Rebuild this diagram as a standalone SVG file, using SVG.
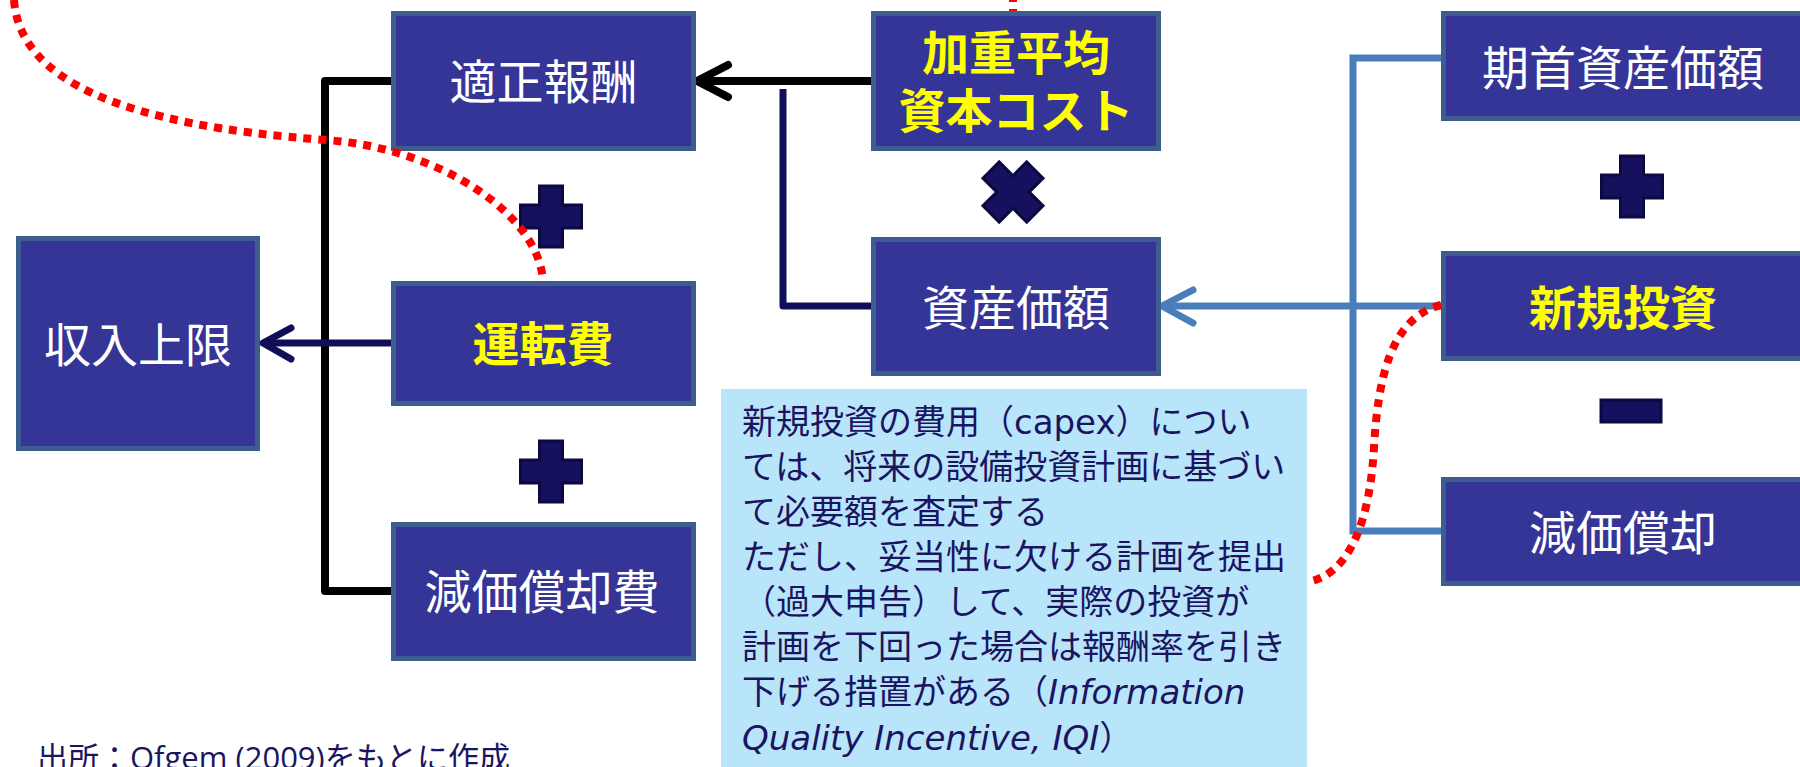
<svg xmlns="http://www.w3.org/2000/svg" width="1800" height="767" viewBox="0 0 1800 767">
<style>
.box{fill:#353598;stroke:#3C5D8E;stroke-width:5}
.wt{fill:#FFFFFF;font-family:"Noto Sans CJK JP",sans-serif;font-size:47px;text-anchor:middle}
.yt{fill:#FFFF00;font-family:"Noto Sans CJK JP",sans-serif;font-size:47px;font-weight:bold;text-anchor:middle}
.op{fill:#15115E;stroke:#0B0940;stroke-width:3}
.blk{fill:none;stroke:#000000;stroke-width:8;stroke-linejoin:round}
.nav{fill:none;stroke:#110E59;stroke-width:7;stroke-linejoin:round}
.stb{fill:none;stroke:#4A7EBB;stroke-width:7;stroke-linejoin:miter}
.head{stroke-linecap:round;stroke-linejoin:round}
.red{fill:none;stroke:#FF0000;stroke-width:8;stroke-dasharray:8 7}
.note{fill:#1B1561;font-family:"Noto Sans CJK JP",sans-serif;font-size:34px}
.lat{font-family:"DejaVu Sans",sans-serif}
.it{font-family:"DejaVu Sans",sans-serif;font-style:italic}
</style>

<g id="connectors">
  <path class="blk" d="M391 81 H325 V591 H391"/>
  <path class="nav" d="M391 343 H264"/>
  <path class="nav head" d="M291 328 L263 343 L291 359"/>
  <path class="blk" d="M871 81 H697"/>
  <path class="blk head" d="M728 65 L697 81 L728 97"/>
  <path class="nav" d="M871 306 H783 V89"/>
  <path class="stb" d="M1441 58 H1353 V531 H1441"/>
  <path class="stb" d="M1441 306 H1163"/>
  <path class="stb head" d="M1193 290 L1162 306 L1193 323"/>
</g>

<g id="node-tekisei">
  <rect class="box" x="393.5" y="13.5" width="300" height="135"/>
  <text class="wt" x="543.5" y="99">適正報酬</text>
</g>
<g id="node-untenhi">
  <rect class="box" x="393.5" y="283.5" width="300" height="120"/>
  <text class="yt" x="543" y="361">運転費</text>
</g>
<g id="node-genkashokyakuhi">
  <rect class="box" x="393.5" y="524.5" width="300" height="134"/>
  <text class="wt" x="542" y="609">減価償却費</text>
</g>
<g id="node-shunyu">
  <rect class="box" x="18.5" y="238.5" width="239" height="210"/>
  <text class="wt" x="138" y="362">収入上限</text>
</g>
<g id="node-wacc">
  <rect class="box" x="873.5" y="13.5" width="285" height="135"/>
  <text class="yt"><tspan x="1016" y="70">加重平均</tspan><tspan x="1016" y="128">資本コスト</tspan></text>
</g>
<g id="node-shisan">
  <rect class="box" x="873.5" y="239.5" width="285" height="134"/>
  <text class="wt" x="1016" y="325">資産価額</text>
</g>
<g id="node-kishu">
  <rect class="box" x="1443.5" y="13.5" width="359" height="105"/>
  <text class="wt" x="1623" y="85">期首資産価額</text>
</g>
<g id="node-shinki">
  <rect class="box" x="1443.5" y="253.5" width="359" height="105"/>
  <text class="yt" x="1623" y="325">新規投資</text>
</g>
<g id="node-genka">
  <rect class="box" x="1443.5" y="479.5" width="359" height="104"/>
  <text class="wt" x="1623" y="550">減価償却</text>
</g>

<g id="operators">
  <path class="op" d="M539.5 186 h23 v19 h19 v23 h-19 v19 h-23 v-19 h-19 v-23 h19 z"/>
  <path class="op" d="M539.5 441 h23 v19 h19 v23 h-19 v19 h-23 v-19 h-19 v-23 h19 z"/>
  <path class="op" d="M1620.5 156 h23 v19 h19 v23 h-19 v19 h-23 v-19 h-19 v-23 h19 z"/>
  <rect class="op" x="1601" y="400" width="60" height="22"/>
  <path class="op" transform="translate(1013 192) rotate(45)" d="M-11.5 -31 h23 v19.5 h19.5 v23 h-19.5 v19.5 h-23 v-19.5 h-19.5 v-23 h19.5 z"/>
</g>

<g id="note">
  <rect x="721" y="389" width="586" height="390" fill="#B9E5FB"/>
  <text class="note" x="742" y="434">新規投資の費用（<tspan class="lat">capex</tspan>）につい</text>
  <text class="note" x="742" y="479">ては、将来の設備投資計画に基づい</text>
  <text class="note" x="742" y="524">て必要額を査定する</text>
  <text class="note" x="742" y="569">ただし、妥当性に欠ける計画を提出</text>
  <text class="note" x="742" y="614">（過大申告）して、実際の投資が</text>
  <text class="note" x="742" y="659">計画を下回った場合は報酬率を引き</text>
  <text class="note" x="742" y="704">下げる措置がある（<tspan class="it">Information</tspan></text>
  <text class="note" x="742" y="750"><tspan class="it">Quality Incentive, IQI</tspan>）</text>
</g>

<g id="highlights">
  <path class="red" d="M14 0 C20 80 120 125 326 140 C440 148 540 215 543 282"/>
  <path class="red" d="M1013 -6 L1013 11"/>
  <path class="red" d="M1441 305 C1390 318 1378 380 1374 447 C1370 520 1350 575 1307 582"/>
</g>

<text id="source" x="37" y="769" fill="#1B1561" font-family="Noto Sans CJK JP, sans-serif" font-size="31">出所：<tspan font-family="Open Sans, sans-serif">Ofgem (2009)</tspan>をもとに作成</text>
</svg>
